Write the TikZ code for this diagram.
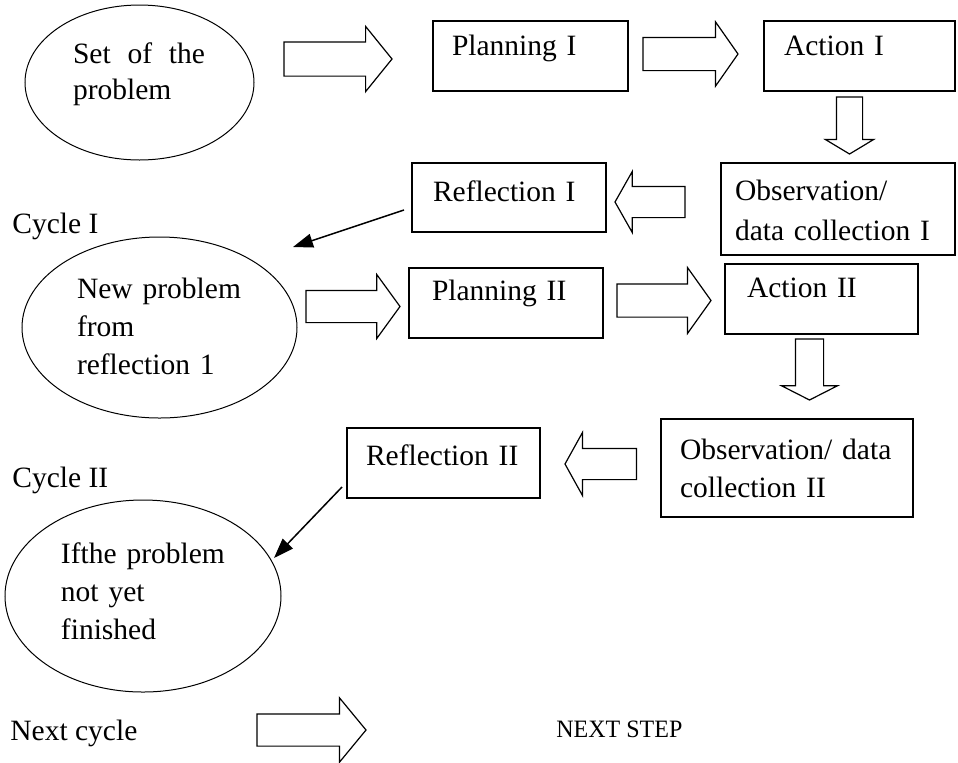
\documentclass[tikz,border=0pt]{standalone}
\usepackage{fontspec}
\setmainfont{Liberation Serif}
\usetikzlibrary{shapes.geometric,shapes.arrows,arrows.meta}

\tikzset{
  box/.style={draw, line width=0.75pt, rectangle, anchor=north west, inner ysep=0pt, outer sep=0pt, align=left},
  oval/.style={draw, line width=0.5pt, ellipse, inner sep=0pt, outer sep=0pt, align=left},
  plain/.style={anchor=base west, inner sep=0pt},
  fat/.style={single arrow, draw, line width=0.6pt, inner xsep=0pt, outer sep=0pt, anchor=tail},
  pointer/.style={-{Triangle[length=10pt,width=7pt]}, line width=0.75pt}
}

\begin{document}
\begin{tikzpicture}[x=0.5pt, y=-0.5pt, font=\fontsize{14.75}{19}\selectfont]
  \useasboundingbox (0,0) rectangle (958,762);

  % problems
  \node[oval, minimum width=114.5pt, minimum height=77.5pt, text width=66.5pt, text height=11pt, text depth=30.5pt]
    (setprob) at (139.5,82.5) {\makebox[66pt][l]{Set\hfill of\hfill the}\\[-1pt]problem};
  \node[oval, minimum width=137.5pt, minimum height=90.5pt, text width=82.5pt, text height=12pt, text depth=41.5pt]
    (newprob) at (159.5,327.5) {\makebox[82pt][l]{New\hfill problem}\\from\\reflection 1};
  \node[oval, minimum width=138pt, minimum height=96pt, text width=82pt, text height=12pt, text depth=45pt]
    (notyet) at (143,596) {Ifthe problem\\not yet\\finished};

  % cycle I
  \node[box, inner xsep=9.5pt, text width=78.5pt, text height=17pt, text depth=18pt] (plan1) at (433,21) {Planning I};
  \node[box, inner xsep=10pt, text width=75.5pt, text height=17pt, text depth=18pt] (act1) at (764,21) {Action I};
  \node[box, inner xsep=7pt, text width=103pt, text height=18.5pt, text depth=27.5pt] (obs1) at (721,163) {Observation/\\[1pt]data collection I};
  \node[box, inner xsep=10.5pt, text width=76pt, text height=19pt, text depth=15.5pt] (refl1) at (412,163) {Reflection I};

  % cycle II
  \node[box, inner xsep=11.5pt, text width=74pt, text height=16pt, text depth=19pt] (plan2) at (409,268) {Planning II};
  \node[box, inner xsep=11pt, text width=74.5pt, text height=16.5pt, text depth=18.5pt] (act2) at (725,264) {Action II};
  \node[box, inner xsep=9.5pt, text width=107pt, text height=20pt, text depth=29pt] (obs2) at (661,419) {Observation/ data\\collection II};
  \node[box, inner xsep=9.5pt, text width=77.5pt, text height=18.5pt, text depth=16.5pt] (refl2) at (347,428) {Reflection II};

  \node[plain] (cyc1) at (12,233) {Cycle I};
  \node[plain] (cyc2) at (12,487) {Cycle II};
  \node[plain] (nextcyc) at (10,740) {Next cycle};
  \node[plain, font=\fontsize{12.5}{14}\selectfont] (nextstep) at (556,737) {\scalebox{0.96}[1]{NEXT STEP}};

  % block arrows
  \node[fat, minimum height=54pt, inner ysep=8.25pt, single arrow head extend=7.75pt, single arrow tip angle=102] (a1) at (284,59) {};
  \node[fat, minimum height=47.5pt, inner ysep=8pt, single arrow head extend=7.75pt, single arrow tip angle=110] (a2) at (643,54) {};
  \node[fat, shape border rotate=270, minimum height=28.5pt, inner xsep=6.25pt, inner ysep=0pt, single arrow head extend=5.5pt, single arrow tip angle=118] (d1) at (849.5,97) {};
  \node[fat, shape border rotate=180, minimum height=35pt, inner ysep=7.5pt, single arrow head extend=7.5pt, single arrow tip angle=121] (l1) at (685,202) {};
  \node[fat, minimum height=47pt, inner ysep=7.75pt, single arrow head extend=8pt, single arrow tip angle=108] (a3) at (306,306.5) {};
  \node[fat, minimum height=47pt, inner ysep=8pt, single arrow head extend=8.25pt, single arrow tip angle=109] (a4) at (617,300.5) {};
  \node[fat, shape border rotate=270, minimum height=30.5pt, inner xsep=6.75pt, inner ysep=0pt, single arrow head extend=7pt, single arrow tip angle=126] (d2) at (809.5,339) {};
  \node[fat, shape border rotate=180, minimum height=35.75pt, inner ysep=7.5pt, single arrow head extend=8pt, single arrow tip angle=122] (l2) at (636.5,464) {};
  \node[fat, minimum height=54.5pt, inner ysep=7.75pt, single arrow head extend=8pt, single arrow tip angle=101] (a5) at (257,730) {};

  % back to a new problem
  \coordinate (r1out) at (404,210);
  \coordinate (r1in) at (293,247);
  \coordinate (r2out) at (342,487);
  \coordinate (r2in) at (274,558);
  \draw[pointer] (r1out) -- (r1in);
  \draw[pointer] (r2out) -- (r2in);
\end{tikzpicture}
\end{document}
